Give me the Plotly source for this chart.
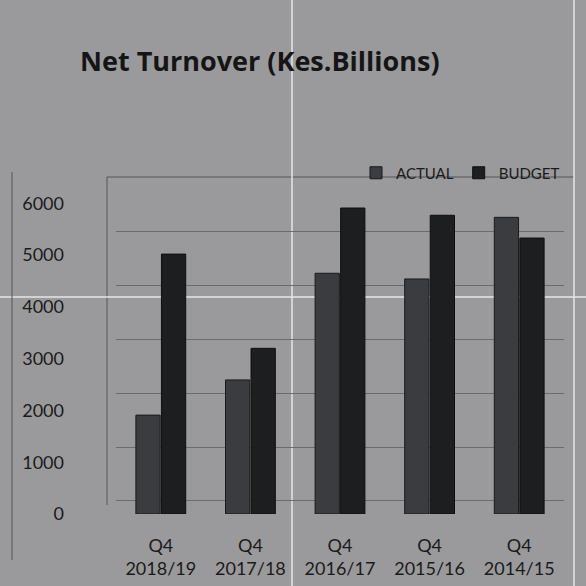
import plotly.graph_objects as go

categories = ["Q4<br>2018/19", "Q4<br>2017/18", "Q4<br>2016/17", "Q4<br>2015/16", "Q4<br>2014/15"]
actual = [1910, 2590, 4650, 4540, 5730]
budget = [5020, 3200, 5910, 5770, 5330]
y_ticks = [0, 1000, 2000, 3000, 4000, 5000, 6000]

W = H = 586
l, r, t, b = 116, 22, 178, 72
pw, ph = W - l - r, H - t - b
BG = "#9a9a9c"


def px_x(x):
    return (x - l) / pw


def px_y(y):
    return (H - b - y) / ph


fig = go.Figure()
fig.add_trace(go.Bar(name="ACTUAL", x=categories, y=actual,
                     marker=dict(color="#3b3c3f", line=dict(color="#1a1a1a", width=1))))
fig.add_trace(go.Bar(name="BUDGET", x=categories, y=budget,
                     marker=dict(color="#1d1e20", line=dict(color="#0e0e0e", width=1))))

fig.update_layout(
    width=W, height=H,
    margin=dict(l=l, r=r, t=t, b=b, autoexpand=False),
    paper_bgcolor=BG,
    plot_bgcolor=BG,
    barmode="group",
    bargap=0.43,
    bargroupgap=0.05,
    font=dict(family="Lato, Open Sans, sans-serif", color="#1a1a1a"),
    title=dict(text="<b>Net Turnover (Kes.Billions)</b>", x=80 / W, xanchor="left",
               y=1 - 62 / H, yanchor="middle",
               font=dict(family="Open Sans", size=27, color="#151515")),
    legend=dict(orientation="h", x=px_x(356), y=px_y(173),
                xanchor="left", yanchor="middle", bgcolor="rgba(0,0,0,0)",
                font=dict(size=15, color="#1a1a1a"), itemwidth=30, traceorder="normal"),
    showlegend=True,
)
fig.update_xaxes(showgrid=False, showline=False, ticks="", tickfont=dict(size=18, color="#1a1a1a"),
                 ticklabelstandoff=19, range=[-0.5, 4.5])
fig.update_yaxes(range=[0, 6490], tickvals=y_ticks, showgrid=False,
                 minor=dict(tick0=253, dtick=1040, showgrid=True, gridcolor="#6c6c6e",
                            gridwidth=1, ticks=""),
                 zeroline=False, showline=False, ticks="",
                 ticklabelstandoff=51, tickfont=dict(size=18, color="#1a1a1a"))

# frame / scan artefact lines
shapes = [
    dict(type="line", xref="paper", yref="paper", x0=px_x(107), x1=px_x(574), y0=px_y(177), y1=px_y(177),
         line=dict(color="#555557", width=1), layer="below"),
    dict(type="line", xref="paper", yref="paper", x0=px_x(107), x1=px_x(107),
         y0=px_y(505), y1=px_y(177), line=dict(color="#555557", width=1), layer="below"),
    dict(type="line", xref="paper", yref="paper", x0=px_x(12), x1=px_x(12),
         y0=px_y(560), y1=px_y(172), line=dict(color="#555557", width=1)),
    dict(type="line", xref="paper", yref="paper", x0=px_x(292), x1=px_x(292),
         y0=px_y(H), y1=px_y(0), line=dict(color="#e6e6e6", width=1.5), layer="below"),
    dict(type="line", xref="paper", yref="paper", x0=px_x(574), x1=px_x(574),
         y0=px_y(H), y1=px_y(0), line=dict(color="#e6e6e6", width=1.5), layer="below"),
    dict(type="line", xref="paper", yref="paper", x0=px_x(0), x1=px_x(W),
         y0=px_y(297), y1=px_y(297), line=dict(color="#e6e6e6", width=1.5), layer="below"),
]
fig.update_layout(shapes=shapes)

fig.write_html("out.html", config={"displayModeBar": False},
               post_script="document.body.style.margin='0';document.body.style.background='%s';" % BG)
